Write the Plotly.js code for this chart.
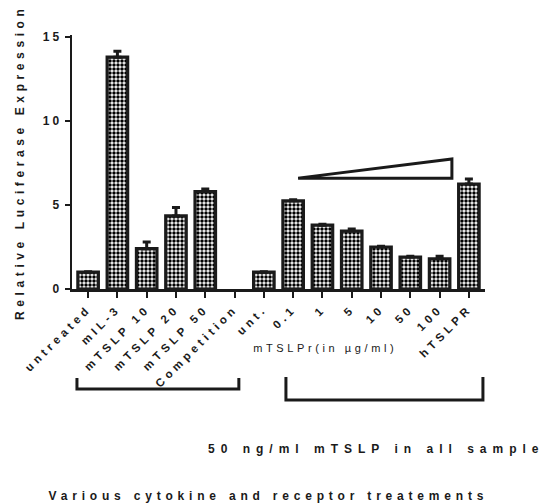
<!DOCTYPE html>
<html>
<head>
<meta charset="utf-8">
<script src="https://cdn.plot.ly/plotly-3.0.1.min.js"></script>
<style>
html,body{margin:0;padding:0;background:#fff;}
#chart{width:544px;height:504px;}
g.xtick text{letter-spacing:4px;}
g.ytick text{letter-spacing:3px;}
g.annotation[data-index="0"] text{letter-spacing:4.6px;}
g.annotation[data-index="1"] text{letter-spacing:3.6px;}
g.annotation[data-index="2"] text{letter-spacing:6px;}
g.annotation[data-index="3"] text{letter-spacing:4.8px;}
</style>
</head>
<body>
<div id="chart"></div>
<script>
var categories = ["untreated","mIL-3","mTSLP 10","mTSLP 20","mTSLP 50","Competition","unt.","0.1","1","5","10","50","100","hTSLPR"];
var values = [1.0, 13.8, 2.4, 4.35, 5.8, null, 1.0, 5.25, 3.8, 3.45, 2.5, 1.9, 1.8, 6.25];
var errorsUp = [0.03, 0.35, 0.4, 0.5, 0.15, null, 0.03, 0.07, 0.05, 0.12, 0.05, 0.05, 0.15, 0.3];
var yTicks = [0, 5, 10, 15];

var FONT = "Liberation Sans, Arial, sans-serif";
var xIdx = categories.map(function(c, i){ return i; });

var trace = {
  type: "bar",
  x: xIdx,
  y: values,
  width: 0.7,
  marker: {
    color: "#ffffff",
    line: {color: "#1a1a1a", width: 3.2},
    pattern: {shape: ".", fgcolor: "#000000", bgcolor: "#ffffff", size: 4, solidity: 0.6}
  },
  error_y: {
    type: "data", symmetric: false, array: errorsUp,
    arrayminus: errorsUp.map(function(){ return 0; }),
    color: "#1a1a1a", thickness: 3, width: 4
  },
  hoverinfo: "none"
};

var layout = {
  width: 544, height: 504,
  margin: {l: 72, r: 59, t: 35, b: 215},
  paper_bgcolor: "#fff", plot_bgcolor: "#fff",
  showlegend: false,
  font: {family: FONT, color: "#1a1a1a"},
  xaxis: {
    range: [-0.55, 13.55],
    tickmode: "array", tickvals: xIdx, ticktext: categories,
    tickangle: -45,
    ticks: "outside", ticklen: 6, tickwidth: 2, tickcolor: "#1a1a1a",
    showline: true, linewidth: 2.5, linecolor: "#1a1a1a",
    showgrid: false, zeroline: false,
    tickfont: {family: FONT, size: 11.5, weight: "bold", color: "#1a1a1a"}
  },
  yaxis: {
    range: [0, 15.12],
    tickmode: "array", tickvals: yTicks, ticktext: yTicks.map(String),
    ticks: "outside", ticklen: 5, tickwidth: 2, tickcolor: "#1a1a1a",
    showline: true, linewidth: 2.5, linecolor: "#1a1a1a",
    showgrid: false, zeroline: false,
    tickfont: {family: FONT, size: 12, weight: "bold", color: "#1a1a1a"}
  },
  annotations: [
    {text: "Relative Luciferase Expression", xref: "paper", yref: "paper",
     x: -0.126, y: 0.5, xanchor: "center", yanchor: "middle", textangle: -90,
     showarrow: false, font: {family: FONT, size: 12, weight: "bold", color: "#1a1a1a"}},
    {text: "mTSLPr(in \u00b5g/ml)", xref: "paper", yref: "paper",
     x: 0.612, y: -0.232, xanchor: "center", yanchor: "middle",
     showarrow: false, font: {family: FONT, size: 11, color: "#1a1a1a"}},
    {text: "50 ng/ml mTSLP in all sample", xref: "paper", yref: "paper",
     x: 0.738, y: -0.630, xanchor: "center", yanchor: "middle",
     showarrow: false, font: {family: FONT, size: 12, weight: "bold", color: "#1a1a1a"}},
    {text: "Various cytokine and receptor treatements", xref: "paper", yref: "paper",
     x: 0.475, y: -0.815, xanchor: "center", yanchor: "middle",
     showarrow: false, font: {family: FONT, size: 12, weight: "bold", color: "#1a1a1a"}}
  ],
  shapes: [
    {type: "path", xref: "x", yref: "y",
     path: "M 7.17,6.6 L 12.42,7.74 L 12.42,6.6 Z",
     line: {color: "#1a1a1a", width: 3}, fillcolor: "rgba(0,0,0,0)"},
    {type: "path", xref: "paper", yref: "paper",
     path: "M 0.012,-0.350 L 0.012,-0.394 L 0.404,-0.394 L 0.404,-0.350",
     line: {color: "#1a1a1a", width: 3}},
    {type: "path", xref: "paper", yref: "paper",
     path: "M 0.518,-0.346 L 0.518,-0.437 L 0.995,-0.437 L 0.995,-0.346",
     line: {color: "#1a1a1a", width: 3}}
  ]
};

Plotly.newPlot("chart", [trace], layout, {staticPlot: true, displayModeBar: false});
</script>
</body>
</html>
